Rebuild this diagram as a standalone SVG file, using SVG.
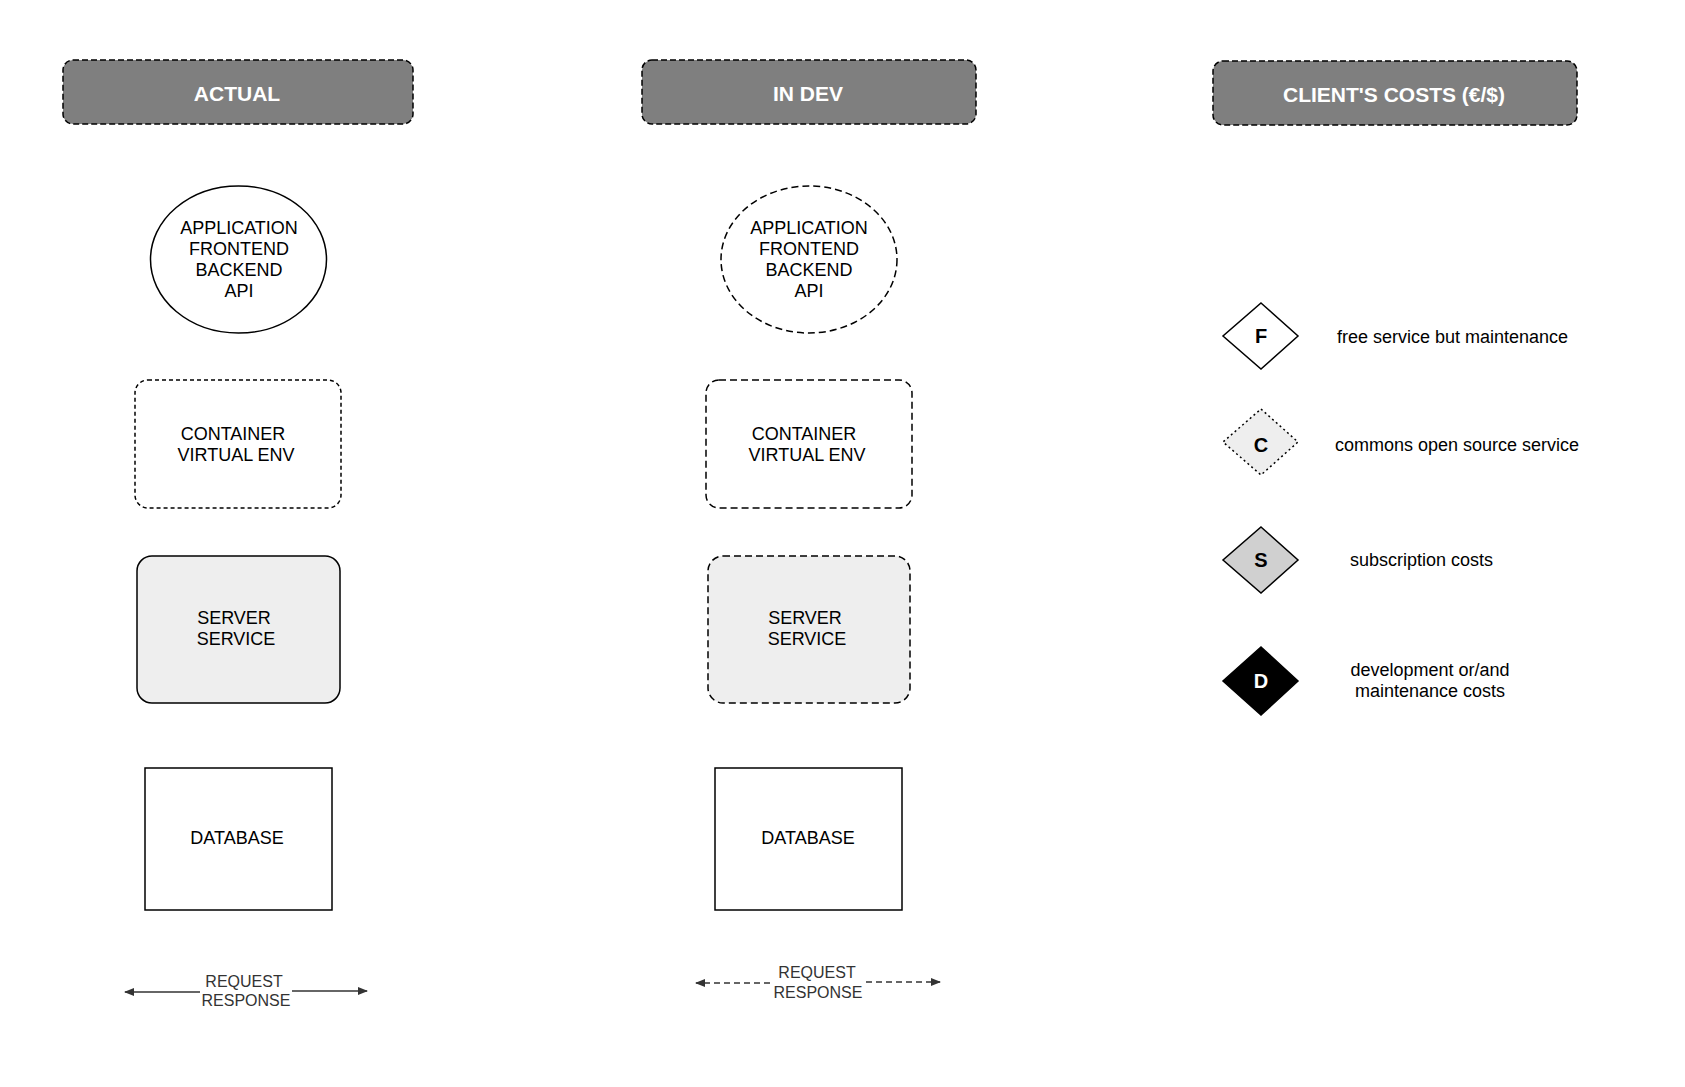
<svg xmlns="http://www.w3.org/2000/svg" width="1685" height="1087" viewBox="0 0 1685 1087">
<defs>
<style>
.hdr{fill:#7f7f7f;stroke:#000;stroke-width:1.5;stroke-dasharray:6,3}
.hdrt{font-family:"Liberation Sans",Arial,sans-serif;font-weight:bold;font-size:21px;fill:#fff;text-anchor:middle}
.lbl{font-family:"Liberation Sans",Arial,sans-serif;font-size:18px;fill:#000;text-anchor:middle}
.lg{font-family:"Liberation Sans",Arial,sans-serif;font-size:18px;fill:#000}
.dl{font-family:"Liberation Sans",Arial,sans-serif;font-weight:bold;font-size:20px;text-anchor:middle}
.rr{font-family:"Liberation Sans",Arial,sans-serif;font-size:16px;fill:#333;text-anchor:middle}
.ln{stroke:#333;stroke-width:1.5;fill:none}
</style>
<marker id="ah" viewBox="0 0 10 10" refX="9" refY="5" markerWidth="10" markerHeight="10" markerUnits="userSpaceOnUse" orient="auto-start-reverse">
<path d="M0,1 L10,5 L0,9 z" fill="#333"/>
</marker>
</defs>
<rect width="1685" height="1087" fill="#fff"/>

<g id="hdr-actual"><rect class="hdr" x="63" y="60" width="350" height="64" rx="10"/><text class="hdrt" x="237" y="101">ACTUAL</text></g>
<g id="hdr-indev"><rect class="hdr" x="642" y="60" width="334" height="64" rx="10"/><text class="hdrt" x="808" y="101">IN DEV</text></g>
<g id="hdr-costs"><rect class="hdr" x="1213" y="61" width="364" height="64" rx="10"/><text class="hdrt" x="1394" y="102">CLIENT'S COSTS (€/$)</text></g>

<g id="app-actual"><ellipse cx="238.5" cy="259.5" rx="88" ry="73.5" fill="#fff" stroke="#000" stroke-width="1.5"/>
<text class="lbl"><tspan x="239" y="234">APPLICATION</tspan><tspan x="239" y="255">FRONTEND</tspan><tspan x="239" y="276">BACKEND</tspan><tspan x="239" y="297">API</tspan></text></g>
<g id="app-indev"><ellipse cx="809" cy="259.5" rx="88" ry="73.5" fill="#fff" stroke="#000" stroke-width="1.5" stroke-dasharray="7,4"/>
<text class="lbl"><tspan x="809" y="234">APPLICATION</tspan><tspan x="809" y="255">FRONTEND</tspan><tspan x="809" y="276">BACKEND</tspan><tspan x="809" y="297">API</tspan></text></g>

<g id="container-actual"><rect x="135" y="380" width="206" height="128" rx="13" fill="#fff" stroke="#000" stroke-width="1.5" stroke-dasharray="4,3"/>
<text class="lbl"><tspan x="233" y="440">CONTAINER</tspan><tspan x="236" y="461">VIRTUAL ENV</tspan></text></g>
<g id="container-indev"><rect x="706" y="380" width="206" height="128" rx="13" fill="#fff" stroke="#000" stroke-width="1.5" stroke-dasharray="7,4"/>
<text class="lbl"><tspan x="804" y="440">CONTAINER</tspan><tspan x="807" y="461">VIRTUAL ENV</tspan></text></g>

<g id="server-actual"><rect x="137" y="556" width="203" height="147" rx="15" fill="#eeeeee" stroke="#000" stroke-width="1.5"/>
<text class="lbl"><tspan x="234" y="624">SERVER</tspan><tspan x="236" y="645">SERVICE</tspan></text></g>
<g id="server-indev"><rect x="708" y="556" width="202" height="147" rx="15" fill="#eeeeee" stroke="#000" stroke-width="1.5" stroke-dasharray="7,4"/>
<text class="lbl"><tspan x="805" y="624">SERVER</tspan><tspan x="807" y="645">SERVICE</tspan></text></g>

<g id="db-actual"><rect x="145" y="768" width="187" height="142" fill="#fff" stroke="#000" stroke-width="1.5"/>
<text class="lbl" x="237" y="844">DATABASE</text></g>
<g id="db-indev"><rect x="715" y="768" width="187" height="142" fill="#fff" stroke="#000" stroke-width="1.5"/>
<text class="lbl" x="808" y="844">DATABASE</text></g>

<g id="connectors">
<line class="ln" x1="200" y1="992" x2="125" y2="992" marker-end="url(#ah)"/>
<line class="ln" x1="292" y1="991" x2="367" y2="991" marker-end="url(#ah)"/>
<line class="ln" x1="770" y1="983" x2="696" y2="983" stroke-dasharray="6,4" marker-end="url(#ah)"/>
<line class="ln" x1="866" y1="982" x2="940" y2="982" stroke-dasharray="6,4" marker-end="url(#ah)"/>
</g>
<g id="rr-actual"><text class="rr"><tspan x="244" y="987">REQUEST</tspan><tspan x="246" y="1006">RESPONSE</tspan></text></g>
<g id="rr-indev"><text class="rr"><tspan x="817" y="978">REQUEST</tspan><tspan x="818" y="998">RESPONSE</tspan></text></g>

<g id="legend-f"><polygon points="1261,303 1298,336 1261,369 1223,336" fill="#fff" stroke="#000" stroke-width="1.5"/>
<text class="dl" x="1261" y="343" fill="#000">F</text>
<text class="lg" x="1337" y="343">free service but maintenance</text></g>
<g id="legend-c"><polygon points="1261,409 1298,442 1261,475 1223,442" fill="#eeeeee" stroke="#000" stroke-width="1.5" stroke-dasharray="2,3"/>
<text class="dl" x="1261" y="452" fill="#000">C</text>
<text class="lg" x="1335" y="451">commons open source service</text></g>
<g id="legend-s"><polygon points="1261,527 1298,560 1261,593 1223,560" fill="#d0d0d0" stroke="#000" stroke-width="1.5"/>
<text class="dl" x="1261" y="567" fill="#000">S</text>
<text class="lg" x="1350" y="566">subscription costs</text></g>
<g id="legend-d"><polygon points="1261,647 1298,681 1261,715 1223,681" fill="#000" stroke="#000" stroke-width="1.5"/>
<text class="dl" x="1261" y="688" fill="#fff">D</text>
<text class="lg" text-anchor="middle"><tspan x="1430" y="676">development or/and</tspan><tspan x="1430" y="697">maintenance costs</tspan></text></g>
</svg>
